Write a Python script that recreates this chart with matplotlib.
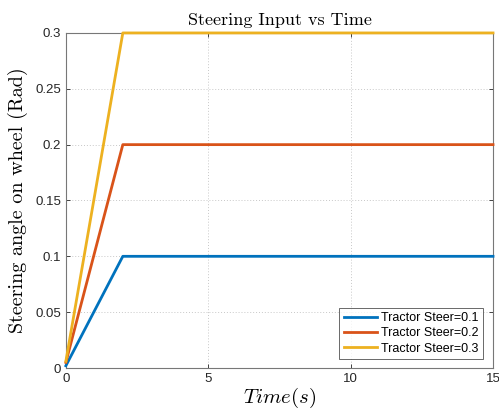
import matplotlib
matplotlib.use("Agg")
import matplotlib.pyplot as plt

t = [0, 2, 15]
steer_01 = [0.002, 0.1, 0.1]
steer_02 = [0.005, 0.2, 0.2]
steer_03 = [0.006, 0.3, 0.3]
labels = ["Tractor Steer=0.1", "Tractor Steer=0.2", "Tractor Steer=0.3"]
colors = ["#0072BD", "#D95319", "#EDB120"]
xticks = [0, 5, 10, 15]
yticks = [0, 0.05, 0.1, 0.15, 0.2, 0.25, 0.3]

plt.rcParams["font.family"] = ["Liberation Sans", "DejaVu Sans"]
plt.rcParams["mathtext.fontset"] = "cm"

fig = plt.figure(figsize=(4.99, 4.17), dpi=100)
ax = fig.add_axes([0.132, 0.1175, 0.856, 0.8035])

for y, lab, c in zip([steer_01, steer_02, steer_03], labels, colors):
    ax.plot(t, y, color=c, lw=2.0, label=lab, clip_on=False, zorder=3)

ax.set_xlim(0, 15)
ax.set_ylim(0, 0.3)
ax.set_xticks(xticks)
ax.set_yticks(yticks)
ax.set_xticklabels([f"{v:g}" for v in xticks])
ax.set_yticklabels([f"{v:g}" for v in yticks])
ax.grid(True, linestyle=(0, (1, 2)), color="#c8c8c8", lw=0.7)
ax.tick_params(direction="in", top=True, right=True, labelsize=9.5, colors="#262626", length=3, width=0.6)
for s in ax.spines.values():
    s.set_color("#777777")
    s.set_linewidth(0.8)

ax.set_title("Steering Input vs Time", family="cmr10", fontsize=13, pad=6)
ax.set_ylabel("Steering angle on wheel (Rad)", family="cmr10", fontsize=14.5, labelpad=5)
ax.set_xlabel("$Time(s)$", fontsize=15, labelpad=1)

leg = ax.legend(loc="lower right", fontsize=9, frameon=True, fancybox=False,
                edgecolor="#262626", handlelength=2.7, borderpad=0.35,
                labelspacing=0.25, handletextpad=0.3, borderaxespad=0.0,
                bbox_to_anchor=(483 / 499, (417 - 359) / 417),
                bbox_transform=fig.transFigure)
leg.get_frame().set_linewidth(0.6)
leg.set_zorder(5)

fig.savefig("out.png", dpi=100)
